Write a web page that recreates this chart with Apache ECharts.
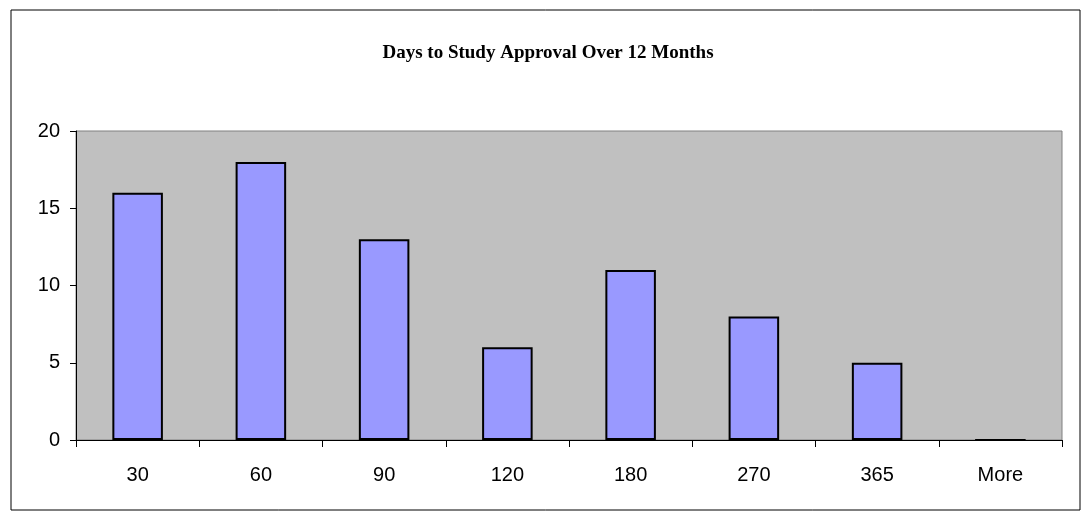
<!DOCTYPE html>
<html>
<head>
<meta charset="utf-8">
<script src="https://cdn.jsdelivr.net/npm/echarts@6/dist/echarts.min.js"></script>
<style>
html,body{margin:0;padding:0;background:#fff;}
#chart{width:1086px;height:517px;}
</style>
</head>
<body>
<div id="chart"></div>
<script>
var categories = ['30', '60', '90', '120', '180', '270', '365', 'More'];
var counts = [16, 18, 13, 6, 11, 8, 5, 0];
var yTicks = [0, 5, 10, 15, 20];

var chart = echarts.init(document.getElementById('chart'));
var option = {
	backgroundColor: '#ffffff',
	animation: false,
	title: {
		text: 'Days to Study Approval Over 12 Months',
		left: 543,
		textAlign: 'center',
		top: 39,
		textStyle: {
			fontFamily: 'Liberation Serif',
			fontWeight: 'bold',
			fontSize: 19,
			color: '#000'
		}
	},
	graphic: [{
		type: 'rect',
		shape: { x: 11, y: 10, width: 1069, height: 500 },
		style: { fill: 'none', stroke: '#000', lineWidth: 1 },
		z: -1
	}],
	grid: {
		left: 76,
		right: 24,
		top: 131,
		bottom: 77,
		show: true,
		backgroundColor: '#C0C0C0',
		borderColor: '#808080',
		borderWidth: 1
	},
	xAxis: {
		type: 'category',
		data: categories,
		axisLine: { lineStyle: { color: '#000', width: 1 } },
		axisTick: { show: true, length: 7, inside: false, lineStyle: { color: '#000' } },
		axisLabel: {
			margin: 25,
			color: '#000',
			fontFamily: 'Liberation Sans',
			fontSize: 20
		},
		splitLine: { show: false }
	},
	yAxis: {
		type: 'value',
		min: yTicks[0],
		max: yTicks[yTicks.length - 1],
		interval: 5,
		axisLine: { show: true, lineStyle: { color: '#000', width: 1 } },
		axisTick: { show: true, length: 6, lineStyle: { color: '#000' } },
		axisLabel: {
			margin: 16,
			color: '#000',
			fontFamily: 'Liberation Sans',
			fontSize: 20
		},
		splitLine: { show: false }
	},
	series: [{
		type: 'bar',
		data: counts,
		barCategoryGap: '59%',
		itemStyle: {
			color: '#9999FF',
			borderColor: '#000',
			borderWidth: 2
		}
	}]
};
chart.setOption(option);
window.onresize = chart.resize;
</script>
</body>
</html>
